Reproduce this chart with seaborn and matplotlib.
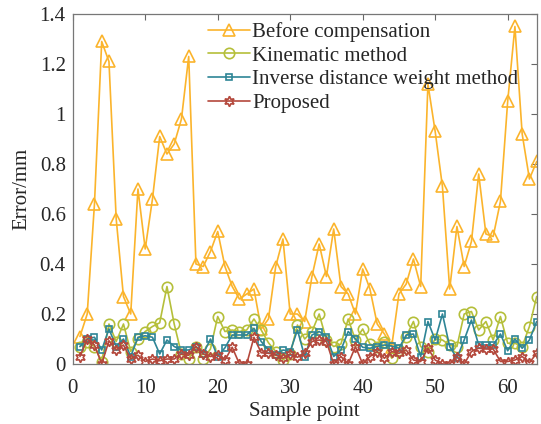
import numpy as np
import pandas as pd
import matplotlib
matplotlib.use("Agg")
import matplotlib.pyplot as plt
import seaborn as sns
from matplotlib.ticker import FuncFormatter

sample = np.arange(1, 65)

before = [0.11, 0.20, 0.64, 1.29, 1.21, 0.58, 0.27, 0.20, 0.70, 0.46,
          0.66, 0.91, 0.84, 0.88, 0.98, 1.23, 0.40, 0.39, 0.45, 0.53,
          0.39, 0.31, 0.26, 0.28, 0.30, 0.14, 0.18, 0.39, 0.50, 0.20,
          0.20, 0.17, 0.35, 0.48, 0.35, 0.54, 0.31, 0.28, 0.20, 0.38,
          0.30, 0.16, 0.12, 0.07, 0.28, 0.32, 0.42, 0.31, 1.12, 0.93,
          0.71, 0.30, 0.55, 0.39, 0.49, 0.76, 0.52, 0.51, 0.65, 1.05,
          1.35, 0.92, 0.74, 0.81]
kinematic = [0.07, 0.09, 0.07, 0.01, 0.16, 0.09, 0.16, 0.05, 0.10, 0.13,
             0.15, 0.165, 0.31, 0.16, 0.04, 0.02, 0.07, 0.02, 0.06, 0.19,
             0.13, 0.136, 0.13, 0.136, 0.18, 0.136, 0.085, 0.05, 0.016, 0.04,
             0.156, 0.10, 0.13, 0.20, 0.096, 0.07, 0.08, 0.18, 0.096, 0.14,
             0.08, 0.07, 0.09, 0.023, 0.056, 0.11, 0.17, 0.07, 0.05, 0.10,
             0.096, 0.076, 0.07, 0.20, 0.21, 0.136, 0.17, 0.096, 0.19, 0.083,
             0.083, 0.07, 0.15, 0.27]
inverse = [0.07, 0.10, 0.107, 0.056, 0.14, 0.07, 0.10, 0.03, 0.107, 0.113,
           0.107, 0.04, 0.096, 0.07, 0.056, 0.056, 0.07, 0.04, 0.10, 0.03,
           0.065, 0.116, 0.116, 0.116, 0.143, 0.09, 0.056, 0.036, 0.056, 0.05,
           0.136, 0.03, 0.116, 0.13, 0.11, 0.03, 0.056, 0.13, 0.10, 0.067,
           0.063, 0.07, 0.076, 0.072, 0.063, 0.116, 0.12, 0.03, 0.17, 0.096,
           0.20, 0.07, 0.023, 0.096, 0.176, 0.076, 0.076, 0.076, 0.12, 0.053,
           0.10, 0.063, 0.096, 0.17]
proposed = [0.03, 0.10, 0.076, 0.0, 0.093, 0.056, 0.076, 0.02, 0.035, 0.01,
            0.02, 0.013, 0.02, 0.02, 0.04, 0.035, 0.07, 0.04, 0.03, 0.036,
            0.016, 0.067, 0.0, 0.0, 0.107, 0.045, 0.043, 0.036, 0.023, 0.04,
            0.027, 0.043, 0.09, 0.096, 0.09, 0.0, 0.03, 0.0, 0.07, 0.0,
            0.03, 0.05, 0.023, 0.05, 0.043, 0.056, 0.016, 0.01, 0.063, 0.016,
            0.0, 0.0, 0.03, 0.0, 0.05, 0.063, 0.06, 0.06, 0.01, 0.01,
            0.016, 0.03, 0.005, 0.043]

series = [
    ("Before compensation", before, "#FBB42C", "^", 8),
    ("Kinematic method", kinematic, "#B5BF3A", "o", 7.5),
    ("Inverse distance weight method", inverse, "#2E8596", "s", 5),
    ("Proposed", proposed, "#B4483C", (6, 1, 0), 7.5),
]

sns.set_style("white")
plt.rcParams['font.family'] = ['Liberation Serif', 'DejaVu Serif']

fig = plt.figure(figsize=(5.41, 4.24), dpi=100)
ax = fig.add_axes([0.1344, 0.1415, 0.8576, 0.8255])

for name, vals, col, mk, ms in series:
    sns.lineplot(x=sample, y=vals, ax=ax, color=col, marker=mk, markersize=ms,
                 markerfacecolor='none', markeredgecolor=col, markeredgewidth=1.2,
                 linewidth=1.2, label=name)

ax.set_xlim(0, 64)
ax.set_ylim(0, 1.4)
ax.set_xticks([0, 10, 20, 30, 40, 50, 60])
ax.set_yticks(np.arange(0, 1.41, 0.2))
ax.yaxis.set_major_formatter(FuncFormatter(lambda v, p: f"{v:g}"))
ax.tick_params(direction='in', top=True, right=True, labelsize=15,
               length=4, width=0.8, color='#666666')
ax.tick_params(axis='x', pad=11)
ax.tick_params(axis='y', pad=5)
for sp in ax.spines.values():
    sp.set_color('#777777')
    sp.set_linewidth(0.9)

ax.set_xlabel('Sample point', fontsize=15, labelpad=3)
ax.set_ylabel('Error/mm', fontsize=15, labelpad=6)

ax.legend(loc='upper left', bbox_to_anchor=(0.265, 1.013), frameon=False,
          fontsize=15, handlelength=2.0, handletextpad=0.1,
          labelspacing=0.2, borderaxespad=0.2)

fig.savefig('out.png', dpi=100)
